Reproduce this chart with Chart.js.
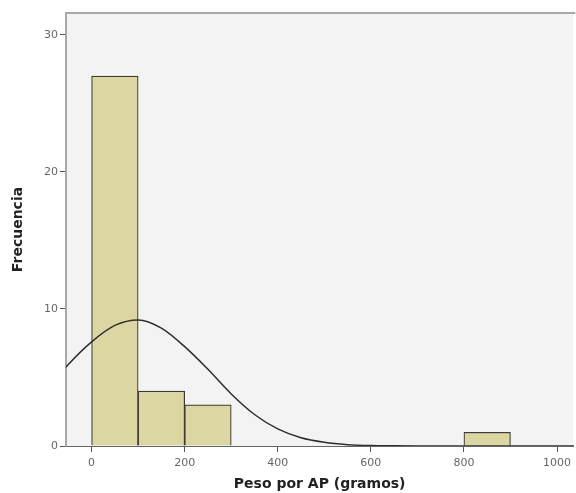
<!DOCTYPE html>
<html lang="es">
<head>
    <meta charset="UTF-8">
    <title>Peso por AP</title>
    <script src="https://cdn.jsdelivr.net/npm/chart.js"></script>
    <style>
        html, body {
            margin: 0;
            padding: 0;
            background: #fff;
        }
        #wrap {
            width: 576px;
            height: 493px;
        }
    </style>
</head>
<body>
    <div id="wrap"><canvas id="histChart" width="576" height="493"></canvas></div>

    <script>
        // bins of 100 g, centres
        const binCentres = [50, 150, 250, 350, 450, 550, 650, 750, 850];
        const frequencies = [27, 4, 3, 0, 0, 0, 0, 0, 1];

        // normal curve
        const curveX = [-55, -50, 0, 50, 100, 150, 200, 250, 300, 350, 400, 450, 500, 550, 600, 650, 700, 800, 900, 1000, 1040];
        const curveY = [5.75, 5.95, 7.6, 8.8, 9.2, 8.6, 7.25, 5.6, 3.8, 2.3, 1.25, 0.6, 0.27, 0.1, 0.03, 0.01, 0, 0, 0, 0, 0];

        const xTicks = [0, 200, 400, 600, 800, 1000];
        const yTicks = [0, 10, 20, 30];

        const barData = binCentres.map((x, i) => ({ x: x, y: frequencies[i] }));
        const curveData = curveX.map((x, i) => ({ x: x, y: curveY[i] }));

        const plotFrame = {
            id: 'plotFrame',
            beforeDatasetsDraw(chart) {
                const a = chart.chartArea;
                const ctx = chart.ctx;
                ctx.save();
                ctx.fillStyle = '#f3f3f3';
                ctx.fillRect(a.left, a.top, a.right - a.left, a.bottom - a.top);
                ctx.strokeStyle = '#a8a8a8';
                ctx.lineWidth = 2;
                ctx.beginPath();
                ctx.moveTo(a.left, a.bottom);
                ctx.lineTo(a.left, a.top);
                ctx.lineTo(a.right + 2, a.top);
                ctx.stroke();
                ctx.restore();
            }
        };

        const tickFont = { family: 'DejaVu Sans', size: 11 };
        const titleFont = { family: 'DejaVu Sans', size: 14, weight: 'bold' };

        new Chart(document.getElementById('histChart'), {
            type: 'bar',
            data: {
                datasets: [{
                    type: 'line',
                    data: curveData,
                    borderColor: '#2e2e2e',
                    borderWidth: 1.5,
                    pointRadius: 0,
                    cubicInterpolationMode: 'monotone',
                    fill: false,
                    order: 0
                },
                {
                    type: 'bar',
                    data: barData,
                    backgroundColor: '#dcd6a3',
                    borderColor: '#3c3c34',
                    borderWidth: 1.2,
                    borderSkipped: 'bottom',
                    barPercentage: 1.0,
                    categoryPercentage: 1.0,
                    order: 1
                }]
            },
            options: {
                responsive: false,
                animation: false,
                layout: {
                    padding: { top: 13, right: 0, left: 0, bottom: 0 }
                },
                plugins: {
                    legend: { display: false },
                    tooltip: { enabled: false }
                },
                scales: {
                    x: {
                        type: 'linear',
                        min: -55,
                        max: 1035,
                        offset: false,
                        afterBuildTicks: (scale) => {
                            scale.ticks = xTicks.map(v => ({ value: v }));
                        },
                        afterFit: (scale) => { scale.height = 47; },
                        grid: {
                            offset: false,
                            drawOnChartArea: false,
                            drawTicks: true,
                            tickLength: 6,
                            color: '#555'
                        },
                        border: { color: '#666', width: 2 },
                        ticks: {
                            color: '#666',
                            font: tickFont,
                            padding: 5,
                            maxRotation: 0,
                            callback: (v) => String(v)
                        },
                        title: {
                            display: true,
                            text: 'Peso por AP (gramos)',
                            color: '#222',
                            font: titleFont,
                            padding: { top: 2, bottom: 0 }
                        }
                    },
                    y: {
                        min: 0,
                        max: 31.6,
                        afterBuildTicks: (scale) => {
                            scale.ticks = yTicks.map(v => ({ value: v }));
                        },
                        afterFit: (scale) => { scale.width = 66; },
                        grid: {
                            offset: false,
                            drawOnChartArea: false,
                            drawTicks: true,
                            tickLength: 6,
                            color: '#555'
                        },
                        border: { color: '#888', width: 2 },
                        ticks: {
                            color: '#666',
                            font: tickFont,
                            padding: 2,
                            callback: (v) => String(v)
                        },
                        title: {
                            display: true,
                            text: 'Frecuencia',
                            color: '#222',
                            font: titleFont,
                            padding: { top: 10, bottom: 0 }
                        }
                    }
                }
            },
            plugins: [plotFrame]
        });
    </script>
</body>
</html>
